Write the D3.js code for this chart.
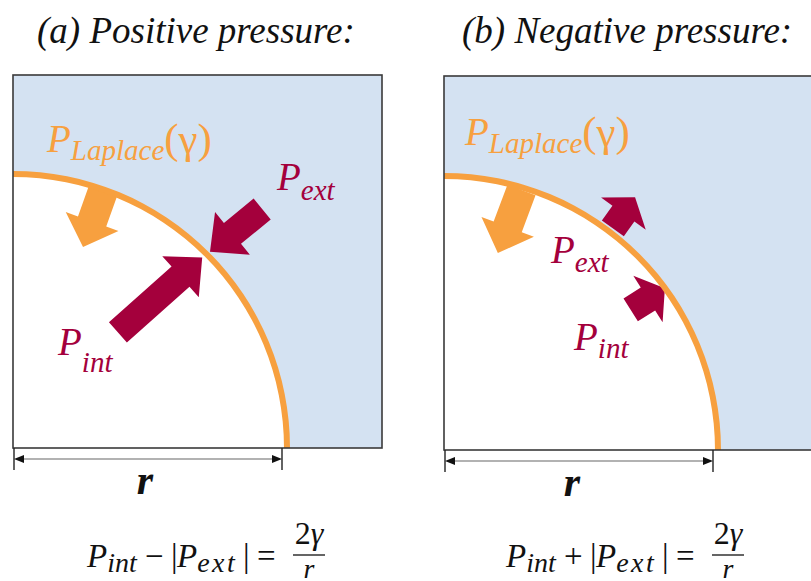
<!DOCTYPE html>
<html>
<head>
<meta charset="utf-8">
<script src="https://cdn.jsdelivr.net/npm/d3@7/dist/d3.min.js"></script>
<style>
  html, body { margin: 0; padding: 0; background: #fff; }
  svg { display: block; }
  text { font-family: "Liberation Serif", "Times New Roman", serif; }
</style>
</head>
<body>
<svg id="fig" width="811" height="581"></svg>
<script>
// Panel captions
const panelTitles = ["(a) Positive pressure:", "(b) Negative pressure:"];

// Pressure arrows in polar form about the bubble centre:
// angle in degrees from the vertical, radius as a fraction of the bubble radius.
const laplaceTail = [[19.3, 1.00], [16.6, 0.99]];
const laplaceTip  = [[19.2, 0.777], [15.3, 0.745]];
const extTail     = [[46.2, 1.26], [37.3, 1.017]];
const extTip      = [[45.1, 1.015], [37.1, 1.156]];
const intTail     = [[42.2, 0.57], [53.1, 0.852]];
const intTip      = [[44.8, 0.98], [53.8, 0.999]];

// Label texts
const laplaceLabel = ["P", "Laplace", "(γ)"];
const extLabel = ["P", "ext"];
const intLabel = ["P", "int"];
const radiusLabel = "r";
const lawSigns = ["−", "+"];

const ORANGE = "#f7a03f", CRIMSON = "#a4003c", BLUE = "#d4e2f2", EDGE = "#3a3a3a";

const svg = d3.select("#fig");

// Geometry of each panel: frame and bubble centre (bottom-left corner)
const panels = [
  { x0: 13, y0: 75, w: 369, h: 373 },
  { x0: 444, y0: 76, w: 369, h: 374 }
];
const R = 274;
const rScale = d3.scaleLinear().domain([0, 1]).range([0, R]);
const aScale = d3.scaleLinear().domain([0, 90]).range([0, Math.PI / 2]);

function polar(p, ar) {
  const cx = p.x0, cy = p.y0 + p.h;
  const t = aScale(ar[0]), r = rScale(ar[1]);
  return [cx + r * Math.sin(t), cy - r * Math.cos(t)];
}

function blockArrow(T, H, sw, hw, hl) {
  const dx = H[0] - T[0], dy = H[1] - T[1];
  const L = Math.hypot(dx, dy);
  const ux = dx / L, uy = dy / L, nx = -uy, ny = ux;
  const B = [H[0] - ux * hl, H[1] - uy * hl];
  const pts = [
    [T[0] + nx * sw / 2, T[1] + ny * sw / 2],
    [B[0] + nx * sw / 2, B[1] + ny * sw / 2],
    [B[0] + nx * hw / 2, B[1] + ny * hw / 2],
    H,
    [B[0] - nx * hw / 2, B[1] - ny * hw / 2],
    [B[0] - nx * sw / 2, B[1] - ny * sw / 2],
    [T[0] - nx * sw / 2, T[1] - ny * sw / 2]
  ];
  return d3.line()(pts) + "Z";
}

const headLen = [[27, 29], [28, 20]]; // [orange, crimson] per panel

// Captions
svg.selectAll("text.title").data(panelTitles).join("text")
  .attr("class", "title")
  .attr("x", (d, i) => [37, 462][i])
  .attr("y", 43)
  .attr("font-size", 37)
  .attr("font-style", "italic")
  .attr("fill", "#111")
  .text(d => d);

panels.forEach((p, i) => {
  const g = svg.append("g");
  const cx = p.x0, cy = p.y0 + p.h;

  // outer medium
  g.append("rect").attr("x", p.x0).attr("y", p.y0).attr("width", p.w).attr("height", p.h)
    .attr("fill", BLUE);

  // bubble interior (quarter disc)
  g.append("path")
    .attr("transform", `translate(${cx},${cy})`)
    .attr("d", d3.arc().innerRadius(0).outerRadius(R).startAngle(0).endAngle(Math.PI / 2)())
    .attr("fill", "#fff");

  // pressure arrows
  g.append("path")
    .attr("d", blockArrow(polar(p, laplaceTail[i]), polar(p, laplaceTip[i]), 30, 56, headLen[i][0]))
    .attr("fill", ORANGE);
  g.append("path")
    .attr("d", blockArrow(polar(p, extTail[i]), polar(p, extTip[i]), 27, 55, headLen[i][1]))
    .attr("fill", CRIMSON);
  g.append("path")
    .attr("d", blockArrow(polar(p, intTail[i]), polar(p, intTip[i]), 27, 55, headLen[i][1]))
    .attr("fill", CRIMSON);

  // interface
  g.append("path")
    .attr("transform", `translate(${cx},${cy})`)
    .attr("d", d3.arc().innerRadius(R - 3).outerRadius(R + 3).startAngle(0).endAngle(Math.PI / 2)())
    .attr("fill", ORANGE);

  // frame
  g.append("rect").attr("x", p.x0).attr("y", p.y0).attr("width", p.w).attr("height", p.h)
    .attr("fill", "none").attr("stroke", EDGE).attr("stroke-width", 1.6);

  // radius dimension
  const dy = cy + 11, xEnd = cx + R - 5;
  g.append("line").attr("x1", cx + 1).attr("x2", cx + 1).attr("y1", cy).attr("y2", cy + 22)
    .attr("stroke", "#222").attr("stroke-width", 1.4);
  g.append("line").attr("x1", xEnd).attr("x2", xEnd).attr("y1", cy).attr("y2", cy + 22)
    .attr("stroke", "#222").attr("stroke-width", 1.4);
  g.append("line").attr("x1", cx + 8).attr("x2", xEnd - 8).attr("y1", dy).attr("y2", dy)
    .attr("stroke", "#666").attr("stroke-width", 1.2);
  g.append("path").attr("d", d3.line()([[cx + 1, dy], [cx + 11, dy - 4], [cx + 11, dy + 4]]) + "Z").attr("fill", "#111");
  g.append("path").attr("d", d3.line()([[xEnd, dy], [xEnd - 10, dy - 4], [xEnd - 10, dy + 4]]) + "Z").attr("fill", "#111");
  g.append("text").attr("x", [145, 572][i]).attr("y", cy + 46)
    .attr("text-anchor", "middle").attr("font-size", 42).attr("font-style", "italic").attr("font-weight", "bold")
    .attr("fill", "#111").text(radiusLabel);

  // labels
  const lp = [[47, 152], [465, 145]][i];
  const tL = g.append("text").attr("x", lp[0]).attr("y", lp[1]).attr("fill", ORANGE).attr("font-style", "italic");
  tL.append("tspan").attr("font-size", 39).text(laplaceLabel[0]);
  tL.append("tspan").attr("font-size", 29).attr("dy", 8).text(laplaceLabel[1]);
  tL.append("tspan").attr("font-size", 43).attr("dy", -7).attr("font-style", "normal").text(laplaceLabel[2]);

  const ep = [[277, 190, 10], [551, 263, 9]][i];
  const tE = g.append("text").attr("x", ep[0]).attr("y", ep[1]).attr("fill", CRIMSON).attr("font-style", "italic");
  tE.append("tspan").attr("font-size", 39).text(extLabel[0]);
  tE.append("tspan").attr("font-size", 29).attr("dy", ep[2]).text(extLabel[1]);

  const ip = [[58, 355, 17], [574, 350, 8]][i];
  const tI = g.append("text").attr("x", ip[0]).attr("y", ip[1]).attr("fill", CRIMSON).attr("font-style", "italic");
  tI.append("tspan").attr("font-size", 39).text(intLabel[0]);
  tI.append("tspan").attr("font-size", 29).attr("dy", ip[2]).text(intLabel[1]);

  // Young–Laplace relation: P_int ∓ |P_ext| = 2γ / r
  const fx = [87, 506][i], fy = 567;
  const law = g.append("text").attr("y", fy).attr("fill", "#111").attr("font-size", 33);
  law.append("tspan").attr("x", fx).attr("font-style", "italic").text("P");
  law.append("tspan").attr("font-style", "italic").attr("font-size", 28).attr("dy", 5).text("int");
  law.append("tspan").attr("x", fx + 58).attr("dy", -5).text(lawSigns[i]);
  law.append("tspan").attr("x", fx + 84).text("|");
  law.append("tspan").attr("x", fx + 90).attr("font-style", "italic").text("P");
  law.append("tspan").attr("font-style", "italic").attr("font-size", 28).attr("letter-spacing", 2.5).attr("dy", 5).text("ext");
  law.append("tspan").attr("x", fx + 156).attr("dy", -5).text("|");
  law.append("tspan").attr("x", fx + 170).text("=");

  const bx0 = fx + 206, bx1 = fx + 238, bm = (bx0 + bx1) / 2;
  g.append("line").attr("x1", bx0).attr("x2", bx1).attr("y1", 555).attr("y2", 555)
    .attr("stroke", "#111").attr("stroke-width", 1.3);
  const num = g.append("text").attr("x", bm).attr("y", 544).attr("text-anchor", "middle")
    .attr("font-size", 32).attr("fill", "#111");
  num.append("tspan").text("2");
  num.append("tspan").attr("font-style", "italic").text("γ");
  g.append("text").attr("x", bm).attr("y", 578).attr("text-anchor", "middle")
    .attr("font-size", 28).attr("font-style", "italic").attr("fill", "#111").text("r");
});
</script>
</body>
</html>
